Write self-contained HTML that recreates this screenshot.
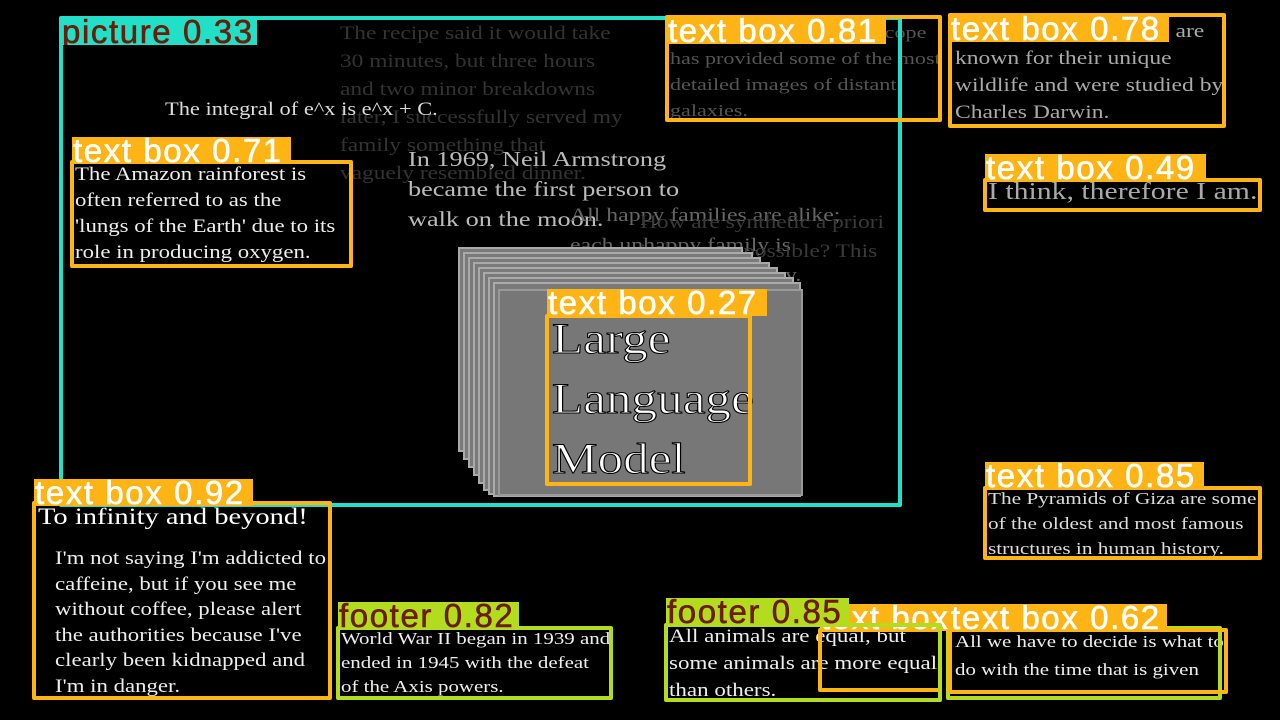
<!DOCTYPE html>
<html><head><meta charset="utf-8"><style>
body{margin:0;width:1280px;height:720px;background:#000;position:relative;overflow:hidden;font-family:"Liberation Serif",serif}
.t{position:absolute;white-space:nowrap;font-family:"Liberation Serif",serif;color:#ddd;transform-origin:0 0;transform:scaleX(1.23)}
.b{position:absolute;box-sizing:border-box;border:4px solid #fdb414;border-radius:2px}
.g{border-color:#b4dc1e}
.c{border-color:#22e0c8}
.l{position:absolute;background:#fdb414;color:#fff;font-family:"Liberation Sans",sans-serif;font-size:33px;letter-spacing:1.6px;line-height:27px;height:27px;overflow:hidden;white-space:nowrap;padding-left:1px;-webkit-text-stroke:0.6px currentColor}
.lg{background:#b4dc1e;color:#6a1d08}
.lc{background:#22e0c8;color:#6a1d08}
.card{position:absolute;background:#7a7a7a;border:2px solid #aaa;box-sizing:border-box}
</style></head><body>
<div class="t" style="left:340px;top:20px;font-size:19px;line-height:28px;color:#333">The recipe said it would take<br>30 minutes, but three hours<br>and two minor breakdowns<br>later, I successfully served my<br>family something that<br>vaguely resembled dinner.</div>
<div class="t" style="left:165px;top:99px;font-size:19px;color:#ddd;transform:scaleX(1.18)">The integral of e^x is e^x + C.</div>
<div class="t" style="left:408px;top:144px;font-size:21px;line-height:30px;color:#bbb;transform:scaleX(1.25)">In 1969, Neil Armstrong<br>became the first person to<br>walk on the moon.</div>
<div class="t" style="left:570px;top:201px;font-size:19px;line-height:30px;color:#666;transform:scaleX(1.25)">All happy families are alike;<br>each unhappy family is<br>unhappy in its own way.</div>
<div class="t" style="left:640px;top:208px;font-size:19px;line-height:29px;color:#3a3a3a">How are synthetic a priori<br>judgments possible? This<br>question defines<br>the<br>issue in<br>Critique of Pure</div>
<div class="card" style="left:458px;top:247px;width:285px;height:205px"></div>
<div class="card" style="left:463px;top:252px;width:290px;height:208px"></div>
<div class="card" style="left:468px;top:257px;width:293px;height:211px"></div>
<div class="card" style="left:473px;top:262px;width:297px;height:214px"></div>
<div class="card" style="left:478px;top:267px;width:300px;height:217px"></div>
<div class="card" style="left:483px;top:272px;width:303px;height:219px"></div>
<div class="card" style="left:488px;top:277px;width:306px;height:218px"></div>
<div class="card" style="left:493px;top:282px;width:308px;height:215px"></div>
<div class="card" style="left:498px;top:289px;width:305px;height:207px;background:#777;border-color:#999"></div>
<div class="t" style="left:552px;top:310px;font-size:43px;line-height:60px;color:#fff;-webkit-text-stroke:1px #000;transform:scaleX(1.19)">Large<br>Language<br>Model</div>
<div class="t" style="left:670px;top:20px;font-size:17px;line-height:26px;color:#555;transform:scaleX(1.3)">The Hubble Space Telescope<br>has provided some of the most<br>detailed images of distant<br>galaxies.</div>
<div class="t" style="left:955px;top:18px;font-size:19px;line-height:27px;color:#aaa;transform:scaleX(1.24)">The Galápagos Islands are<br>known for their unique<br>wildlife and were studied by<br>Charles Darwin.</div>
<div class="t" style="left:988px;top:179px;font-size:24px;color:#aaa;transform:scaleX(1.24)">I think, therefore I am.</div>
<div class="t" style="left:75px;top:162px;font-size:19px;line-height:26px;color:#eee;transform:scaleX(1.2)">The Amazon rainforest is<br>often referred to as the<br>'lungs of the Earth' due to its<br>role in producing oxygen.</div>
<div class="t" style="left:38px;top:504px;font-size:23px;color:#fff;transform:scaleX(1.24)">To infinity and beyond!</div>
<div class="t" style="left:55px;top:546px;font-size:19px;line-height:25.5px;color:#eee;transform:scaleX(1.2)">I'm not saying I'm addicted to<br>caffeine, but if you see me<br>without coffee, please alert<br>the authorities because I've<br>clearly been kidnapped and<br>I'm in danger.</div>
<div class="t" style="left:988px;top:486px;font-size:17px;line-height:25px;color:#ddd;transform:scaleX(1.25)">The Pyramids of Giza are some<br>of the oldest and most famous<br>structures in human history.</div>
<div class="t" style="left:341px;top:627px;font-size:17px;line-height:24px;color:#eee;transform:scaleX(1.23)">World War II began in 1939 and<br>ended in 1945 with the defeat<br>of the Axis powers.</div>
<div class="t" style="left:669px;top:623px;font-size:19px;line-height:27px;color:#eee;transform:scaleX(1.21)">All animals are equal, but<br>some animals are more equal<br>than others.</div>
<div class="t" style="left:955px;top:628px;font-size:17px;line-height:28px;color:#eee;transform:scaleX(1.23)">All we have to decide is what to<br>do with the time that is given</div>
<div class="b c" style="left:59px;top:16px;width:843px;height:491px"></div>
<div class="l lc" style="left:61px;top:18px;width:195px">picture 0.33</div>
<div class="b" style="left:665px;top:15px;width:277px;height:107px"></div>
<div class="l" style="left:667px;top:17px;width:218px">text box 0.81</div>
<div class="b" style="left:948px;top:13px;width:278px;height:115px"></div>
<div class="l" style="left:950px;top:15px;width:218px">text box 0.78</div>
<div class="b" style="left:983px;top:178px;width:279px;height:34px"></div>
<div class="l" style="left:985px;top:154px;width:220px">text box 0.49</div>
<div class="b" style="left:70px;top:160px;width:283px;height:108px"></div>
<div class="l" style="left:72px;top:137px;width:218px">text box 0.71</div>
<div class="b" style="left:545px;top:314px;width:207px;height:172px"></div>
<div class="l" style="left:547px;top:289px;width:219px">text box 0.27</div>
<div class="b" style="left:32px;top:501px;width:300px;height:199px"></div>
<div class="l" style="left:34px;top:479px;width:218px">text box 0.92</div>
<div class="b" style="left:983px;top:486px;width:279px;height:74px"></div>
<div class="l" style="left:985px;top:462px;width:218px">text box 0.85</div>
<div class="b g" style="left:336px;top:626px;width:277px;height:74px"></div>
<div class="l lg" style="left:338px;top:602px;width:180px">footer 0.82</div>
<div class="b g" style="left:946px;top:626px;width:276px;height:74px"></div>
<div class="b" style="left:818px;top:628px;width:124px;height:64px"></div>
<div class="l" style="left:820px;top:604px;width:130px">text box</div>
<div class="b" style="left:948px;top:628px;width:280px;height:66px"></div>
<div class="l" style="left:950px;top:604px;width:216px">text box 0.62</div>
<div class="b g" style="left:664px;top:623px;width:278px;height:79px"></div>
<div class="l lg" style="left:666px;top:598px;width:182px">footer 0.85</div>
</body></html>
